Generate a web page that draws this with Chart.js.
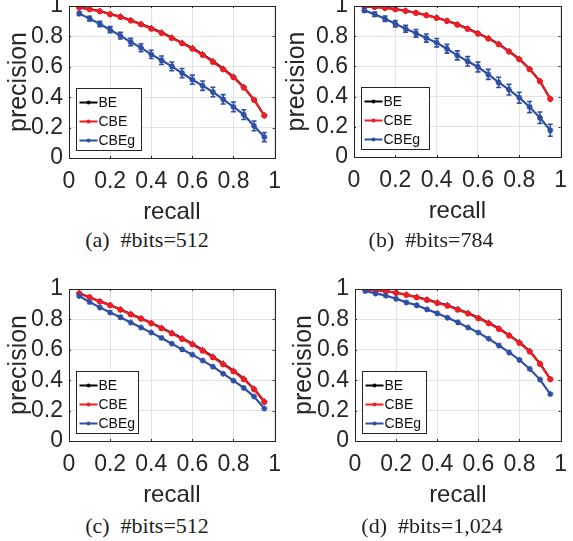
<!DOCTYPE html>
<html>
<head>
<meta charset="utf-8">
<script src="https://cdn.jsdelivr.net/npm/chart.js@4/dist/chart.umd.min.js"></script>
<style>
  body{margin:0;background:#fff;}
  #page{position:relative;width:573px;height:541px;overflow:hidden;background:#fff;}
  canvas{position:absolute;}
  .cap{position:absolute;font-family:"Liberation Serif",serif;font-size:22px;color:#222;white-space:pre;transform:translate(-50%,-50%);}
</style>
</head>
<body>
<div id="page">
  <canvas id="cA"></canvas>
  <canvas id="cB"></canvas>
  <canvas id="cC"></canvas>
  <canvas id="cD"></canvas>
  <div class="cap" style="left:147px;top:240px">(a)  #bits=512</div>
  <div class="cap" style="left:431px;top:240px">(b)  #bits=784</div>
  <div class="cap" style="left:147px;top:526px">(c)  #bits=512</div>
  <div class="cap" style="left:432px;top:526px">(d)  #bits=1,024</div>
</div>
<script>
// DATA
const recall= [0.05,0.10,0.15,0.20,0.25,0.30,0.35,0.40,0.45,0.50,0.55,0.60,0.65,0.70,0.75,0.80,0.85,0.90,0.95];
const tickVals= [0,0.2,0.4,0.6,0.8,1];
const tickLabels= ['0','0.2','0.4','0.6','0.8','1'];
const seriesNames= ['BE','CBE','CBEg'];

// (a) #bits=512
const beA=   [0.990,0.980,0.967,0.948,0.931,0.907,0.882,0.855,0.826,0.793,0.758,0.724,0.684,0.638,0.588,0.535,0.466,0.384,0.280];
const cbeA=  [0.989,0.978,0.965,0.945,0.928,0.904,0.879,0.851,0.822,0.789,0.754,0.719,0.678,0.632,0.583,0.531,0.463,0.382,0.279];
const cbegA= [0.950,0.917,0.882,0.844,0.805,0.763,0.726,0.682,0.643,0.603,0.559,0.515,0.476,0.434,0.386,0.336,0.285,0.211,0.138];
const errA=  [0.012,0.015,0.018,0.020,0.022,0.024,0.026,0.027,0.028,0.029,0.030,0.030,0.031,0.031,0.031,0.032,0.032,0.032,0.030];

// (b) #bits=784
const beB=   [0.999,0.994,0.988,0.980,0.969,0.956,0.940,0.923,0.903,0.879,0.851,0.820,0.787,0.750,0.701,0.650,0.584,0.503,0.386];
const cbeB=  [0.998,0.993,0.987,0.978,0.967,0.954,0.938,0.921,0.901,0.876,0.848,0.817,0.784,0.746,0.698,0.647,0.581,0.501,0.384];
const cbegB= [0.971,0.945,0.916,0.883,0.850,0.819,0.788,0.757,0.717,0.673,0.634,0.596,0.547,0.494,0.446,0.393,0.331,0.260,0.177];
const errB=  [0.012,0.015,0.018,0.021,0.023,0.025,0.027,0.028,0.029,0.030,0.031,0.032,0.033,0.034,0.035,0.036,0.037,0.038,0.040];

// (c) #bits=512
const beC=   [0.973,0.947,0.919,0.895,0.866,0.836,0.808,0.777,0.745,0.712,0.676,0.641,0.600,0.556,0.510,0.463,0.411,0.344,0.260];
const cbeC=  [0.971,0.945,0.917,0.893,0.864,0.833,0.805,0.774,0.741,0.708,0.671,0.636,0.594,0.550,0.504,0.458,0.406,0.340,0.257];
const cbegC= [0.954,0.914,0.879,0.846,0.814,0.779,0.746,0.713,0.678,0.640,0.603,0.568,0.529,0.489,0.443,0.397,0.349,0.292,0.213];

// (d) #bits=1,024
const beD=   [0.999,0.993,0.987,0.976,0.963,0.948,0.931,0.911,0.893,0.868,0.842,0.811,0.778,0.741,0.697,0.649,0.592,0.510,0.408];
const cbeD=  [0.998,0.991,0.985,0.974,0.961,0.945,0.928,0.908,0.890,0.864,0.838,0.807,0.774,0.737,0.693,0.645,0.588,0.507,0.406];
const cbegD= [0.987,0.971,0.956,0.936,0.912,0.893,0.866,0.840,0.811,0.781,0.746,0.713,0.673,0.629,0.583,0.533,0.474,0.404,0.309];

const colBE= '#000000';
const colCBE= '#ee1c24';
const colCBEg= '#2e4fa3';
const sansFont= '"Liberation Sans", Arial, sans-serif';

// draws the vertical error bars of any dataset carrying an "errs" array
const errorBarPlugin= {
    id: 'errorBars',
    afterDatasetsDraw(chart){
        const ctx= chart.ctx;
        const xs= chart.scales.x, ys= chart.scales.y;
        chart.data.datasets.forEach(ds=>{
            if(!ds.errs) return;
            ctx.save();
            ctx.strokeStyle= ds.borderColor;
            ctx.lineWidth= 1.6;
            ds.data.forEach((p, i)=>{
                const x= xs.getPixelForValue(p.x);
                const y1= ys.getPixelForValue(p.y - ds.errs[i]);
                const y2= ys.getPixelForValue(p.y + ds.errs[i]);
                ctx.beginPath();
                ctx.moveTo(x, y1); ctx.lineTo(x, y2);
                ctx.moveTo(x-2.5, y1); ctx.lineTo(x+2.5, y1);
                ctx.moveTo(x-2.5, y2); ctx.lineTo(x+2.5, y2);
                ctx.stroke();
            });
            ctx.restore();
        });
    }
};

// MATLAB style box round the axes plus the boxed legend in the lower-left corner
const boxLegendPlugin= {
    id: 'boxLegend',
    afterDraw(chart){
        const ctx= chart.ctx;
        const a= chart.chartArea;
        ctx.save();
        ctx.strokeStyle= '#262626';
        ctx.lineWidth= 1;
        ctx.strokeRect(Math.round(a.left)+0.5, Math.round(a.top)+0.5, Math.round(a.right-a.left), Math.round(a.bottom-a.top));

        // small inward tick marks
        const xs= chart.scales.x, ys= chart.scales.y;
        ctx.beginPath();
        tickVals.forEach(v=>{
            const x= Math.round(xs.getPixelForValue(v))+0.5;
            ctx.moveTo(x, a.bottom); ctx.lineTo(x, a.bottom-2);
            ctx.moveTo(x, a.top); ctx.lineTo(x, a.top+2);
            const y= Math.round(ys.getPixelForValue(v))+0.5;
            ctx.moveTo(a.left, y); ctx.lineTo(a.left+2, y);
            ctx.moveTo(a.right, y); ctx.lineTo(a.right-2, y);
        });
        ctx.stroke();

        // legend
        const bw= chart.options.legendWidth, bh= 62;
        const bx= Math.round(a.left)+7.5, by= Math.round(a.bottom)-7.5-bh;
        ctx.fillStyle= '#fff';
        ctx.fillRect(bx, by, bw, bh);
        ctx.strokeStyle= '#262626';
        ctx.strokeRect(bx, by, bw, bh);
        const rows= [14, 33, 52];
        const order= [2, 1, 0];   // dataset index for BE, CBE, CBEg
        ctx.font= '14px '+sansFont;
        ctx.textBaseline= 'middle';
        order.forEach((di, r)=>{
            const ds= chart.data.datasets[di];
            const y= by + rows[r];
            ctx.strokeStyle= ds.borderColor;
            ctx.lineWidth= 2;
            ctx.beginPath();
            ctx.moveTo(bx+3, y); ctx.lineTo(bx+21, y);
            ctx.stroke();
            ctx.fillStyle= ds.borderColor;
            ctx.beginPath();
            ctx.arc(bx+12, y, 2, 0, Math.PI*2);
            ctx.fill();
            ctx.fillStyle= '#111';
            ctx.fillText(ds.label, bx+22, y+1);
        });
        ctx.restore();
    }
};

const toPoints= (ys)=> ys.map((v, i)=>({x: recall[i], y: v}));
const fmtTick= (v)=> tickLabels[tickVals.indexOf(+v.toFixed(1))] ?? '';

const makePanel= function(id, area, titleX, be, cbe, cbeg, errs, legendWidth){
    // area = where the axes box sits on the page; the canvas is placed round it
    const canvas= document.getElementById(id);
    const yAxisW= 69, xAxisH= 69, padTop= 26, padRight= 8;
    const left= area.left - yAxisW;
    const top= area.top - padTop;
    const width= area.right + padRight - left;
    const height= area.bottom + xAxisH - top;
    canvas.width= width; canvas.height= height;
    canvas.style.left= left+'px'; canvas.style.top= top+'px';
    canvas.style.width= width+'px'; canvas.style.height= height+'px';

    const gridCol= '#e3e3e3';
    return new Chart(canvas, {
        type: 'line',
        data: {
            datasets: [
                {label: seriesNames[2], data: toPoints(cbeg), errs: errs, borderColor: colCBEg, backgroundColor: colCBEg,
                 borderWidth: 2.2, pointStyle: 'star', pointRadius: 3, pointBorderWidth: 1.5, order: 1},
                {label: seriesNames[1], data: toPoints(cbe), borderColor: colCBE, backgroundColor: colCBE,
                 borderWidth: 2.2, pointStyle: 'circle', pointRadius: 2.6, pointBorderWidth: 1, order: 2},
                {label: seriesNames[0], data: toPoints(be), borderColor: colBE, backgroundColor: colBE,
                 borderWidth: 2, pointStyle: 'cross', pointRadius: 3, pointBorderWidth: 1, order: 3},
            ],
        },
        options: {
            responsive: false,
            animation: false,
            devicePixelRatio: 1,
            legendWidth: legendWidth,
            layout: {padding: {top: padTop, right: padRight, left: 0, bottom: 0}},
            scales: {
                x: {
                    type: 'linear', min: 0, max: 1,
                    afterFit: s=>{ s.height= xAxisH; },
                    afterBuildTicks: s=>{ s.ticks= tickVals.map(v=>({value: v})); },
                    grid: {color: gridCol, drawTicks: false},
                    border: {display: false},
                    ticks: {color: '#262626', font: {family: sansFont, size: 23}, padding: 10, maxRotation: 0, autoSkip: false, callback: fmtTick},
                    title: {display: true, text: 'recall', color: '#262626', font: {family: sansFont, size: 24}, padding: {top: 0, bottom: 0}},
                },
                y: {
                    min: 0, max: 1,
                    afterFit: s=>{ s.width= yAxisW; },
                    afterBuildTicks: s=>{ s.ticks= tickVals.map(v=>({value: v})); },
                    grid: {color: gridCol, drawTicks: false},
                    border: {display: false},
                    ticks: {color: '#262626', font: {family: sansFont, size: 23}, padding: 6, autoSkip: false, callback: fmtTick},
                    title: {display: true, text: 'precision', color: '#262626', font: {family: sansFont, size: 25},
                            padding: {top: titleX - left - 15, bottom: 0}},
                },
            },
            plugins: {legend: {display: false}, tooltip: {enabled: false}},
        },
        plugins: [errorBarPlugin, boxLegendPlugin],
    });
};

makePanel('cA', {left: 69, top: 6, right: 283, bottom: 158}, 19, beA, cbeA, cbegA, errA, 65);
makePanel('cB', {left: 354, top: 6, right: 569, bottom: 157}, 297, beB, cbeB, cbegB, errB, 68);
makePanel('cC', {left: 69, top: 289, right: 283, bottom: 441}, 19, beC, cbeC, cbegC, null, 62);
makePanel('cD', {left: 355, top: 289, right: 569, bottom: 441}, 304, beD, cbeD, cbegD, null, 64);
</script>
</body>
</html>
